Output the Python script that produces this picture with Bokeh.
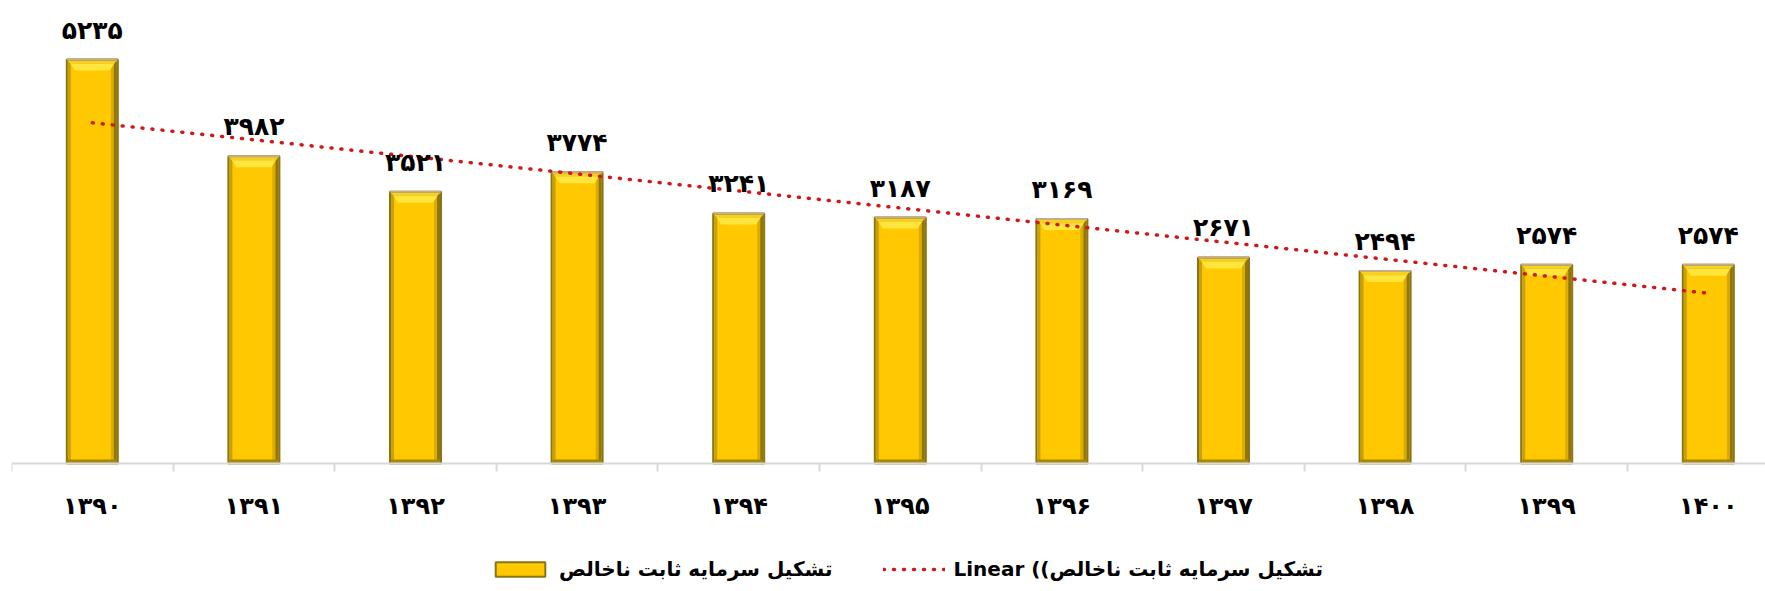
import numpy as np
from bokeh.plotting import figure
from bokeh.models import Range1d, FixedTicker, Legend, LegendItem, ColumnDataSource
from bokeh.core.properties import value
from bokeh.embed import file_html
from bokeh.resources import INLINE

# ---- data ----
years = ["1390", "1391", "1392", "1393", "1394", "1395", "1396", "1397", "1398", "1399", "1400"]
values = [5235, 3982, 3521, 3774, 3241, 3187, 3169, 2671, 2494, 2574, 2574]
series_name = "تشکیل سرمایه ثابت ناخالص"
trend_label = "Linear ((" + series_name

FA = str.maketrans("0123456789", "۰۱۲۳۴۵۶۷۸۹")
def fa(s):
    return str(s).translate(FA)

# ---- layout ----
W, H = 1765, 591
BL = 11
CAT_PX = 161.6            # pixel width of one category
AXIS_Y = 463              # pixel row of the value axis baseline
YMAX = 6000
N = len(values)
px_x = 1.0 / CAT_PX                   # data units per pixel (x)
px_y = YMAX / AXIS_Y                  # data units per pixel (y)
XMAX = (W - BL) / CAT_PX
YMIN = -(H - AXIS_Y) * px_y

p = figure(width=W, height=H, output_backend="svg", toolbar_location=None,
           x_range=Range1d(0, XMAX), y_range=Range1d(YMIN, YMAX),
           min_border_left=BL, min_border_right=0, min_border_top=0, min_border_bottom=0)
p.outline_line_color = None
p.grid.visible = False
p.yaxis.visible = False
p.background_fill_color = "white"

xc = np.arange(N) + 0.5
v = np.array(values, dtype=float)
bw = 51 * px_x
left = xc - bw / 2
right = xc + bw / 2
zero = np.zeros(N)

# main bar
main = p.vbar(x=xc, top=v, width=bw, fill_color="#FFC800", line_color="#8A7418", line_width=2)
# left shading
p.quad(left=left + 1 * px_x, right=left + 4 * px_x, bottom=zero + 2 * px_y, top=v - 2 * px_y,
       fill_color="#C9A10A", line_color=None)
# right shading
p.quad(left=right - 7 * px_x, right=right - 4 * px_x, bottom=zero + 2 * px_y, top=v - 2 * px_y,
       fill_color="#D9AE00", line_color=None)
p.quad(left=right - 4 * px_x, right=right - 1 * px_x, bottom=zero + 2 * px_y, top=v - 2 * px_y,
       fill_color="#8F750C", line_color=None)
# bottom shading
p.quad(left=left + 1 * px_x, right=right - 1 * px_x, bottom=zero + 1 * px_y, top=zero + 4 * px_y,
       fill_color="#A6870C", line_color=None)
# top bevel
xs, ys = [], []
for i in range(N):
    t = v[i] - 1.5 * px_y
    b = v[i] - 11 * px_y
    xs.append([left[i] + 2 * px_x, right[i] - 2 * px_x, right[i] - 8 * px_x, left[i] + 8 * px_x])
    ys.append([t, t, b, b])
p.patches(xs=xs, ys=ys, fill_color="#FFE63C", line_color=None)
xs2, ys2 = [], []
for i in range(N):
    t = v[i] - 1.5 * px_y
    xs2.append([left[i] + 2 * px_x, right[i] - 2 * px_x, right[i] - 4 * px_x, left[i] + 4 * px_x])
    ys2.append([t, t, t - 3 * px_y, t - 3 * px_y])
p.patches(xs=xs2, ys=ys2, fill_color="#F5D020", line_color=None)
# top border
p.segment(x0=left, y0=v, x1=right, y1=v, line_color="#C4AE86", line_width=2)

# trend line (ordinary least squares, like the spreadsheet's linear trendline)
k, b0 = np.polyfit(np.arange(N), v, 1)
trend = k * np.arange(N) + b0
tr = p.line(x=xc, y=trend, line_color="#D01818", line_width=3.5,
            line_dash="1 9", line_cap="round")

# data labels
src = ColumnDataSource(dict(x=xc, y=v, t=[fa(x) for x in values]))
p.text(x="x", y="y", text="t", source=src, text_align="center", text_baseline="bottom",
       y_offset=-15, text_font=value("DejaVu Sans"), text_font_style="bold",
       text_font_size="25px", text_color="#000000")

# x axis (drawn at the zero line inside the frame)
ax = p.xaxis[0]
ax.fixed_location = 0
ax.ticker = FixedTicker(ticks=list(xc), minor_ticks=list(np.arange(N + 1)))
ax.major_label_overrides = {float(x): fa(y) for x, y in zip(xc, years)}
ax.major_tick_in = 0
ax.major_tick_out = 0
ax.minor_tick_in = 0
ax.minor_tick_out = 8
ax.axis_line_color = "#D9D9D9"
ax.axis_line_width = 2
ax.minor_tick_line_color = "#D9D9D9"
ax.minor_tick_line_width = 2
ax.major_label_standoff = 20
ax.major_label_text_font = "DejaVu Sans"
ax.major_label_text_font_style = "bold"
ax.major_label_text_font_size = "24px"
ax.major_label_text_color = "#000000"

# legend
legend = Legend(items=[LegendItem(label=series_name, renderers=[main]),
                       LegendItem(label=trend_label, renderers=[tr])],
                orientation="horizontal", location=(478, 10),
                glyph_width=62, glyph_height=18, label_standoff=8, spacing=51,
                padding=0, margin=0, border_line_color=None, background_fill_alpha=0,
                label_text_font="DejaVu Sans", label_text_font_style="bold",
                label_text_font_size="20px", label_text_color="#000000")
p.add_layout(legend, "center")

open("out.html", "w").write(file_html(p, INLINE))
